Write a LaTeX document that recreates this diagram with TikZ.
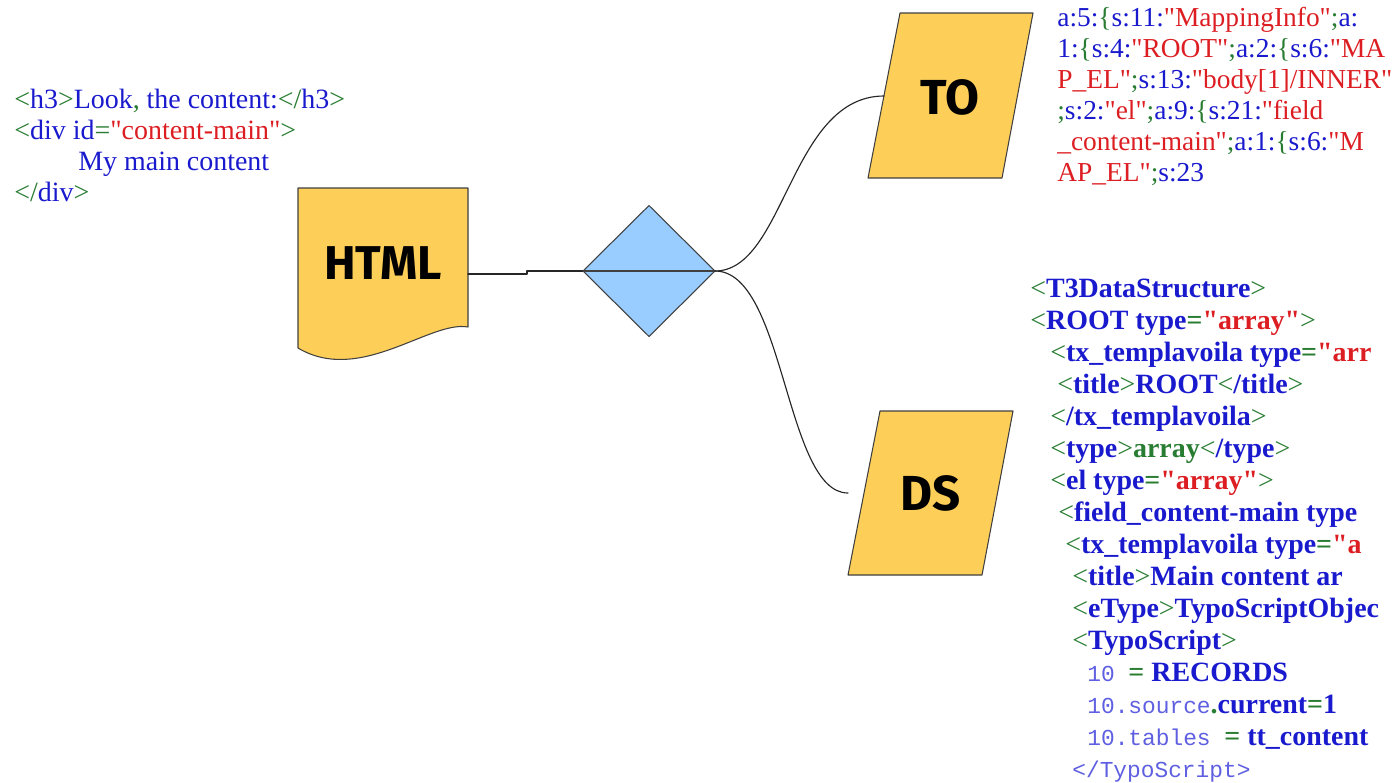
\documentclass[tikz,border=0pt]{standalone}
\usepackage{fontspec}
\setmainfont{Liberation Serif}[Ligatures=TeXOff]
\newfontfamily\codemono{Liberation Mono}
\newfontfamily\boxfont{Fira Sans}
\definecolor{docyellow}{RGB}{253,206,88}
\definecolor{diablue}{RGB}{153,204,255}
\definecolor{tagblue}{RGB}{25,25,205}
\definecolor{taggreen}{RGB}{40,125,50}
\definecolor{valred}{RGB}{220,30,35}
\definecolor{monoblue}{RGB}{95,95,225}
\newcommand{\blu}[1]{\textcolor{tagblue}{#1}}
\newcommand{\grn}[1]{\textcolor{taggreen}{#1}}
\newcommand{\rdd}[1]{\textcolor{valred}{#1}}
\newcommand{\mon}[1]{\textcolor{monoblue}{\codemono\mdseries\fontsize{13pt}{18pt}\selectfont #1}}
\newcommand{\lt}{\grn{\mdseries<}}
\newcommand{\gt}{\grn{\mdseries>}}
\usetikzlibrary{shapes.geometric}
\begin{document}
\begin{tikzpicture}[x=0.02cm,y=-0.02cm,line join=round,line cap=round,
		outline/.style={draw=black!75,line width=0.6pt},
		boxlabel/.style={font=\boxfont\bfseries\fontsize{28pt}{30pt}\selectfont},
		decision/.style={outline,fill=diablue,diamond,minimum width=2.64cm,minimum height=2.62cm,inner sep=0pt,outer sep=0pt},
		code/.style={anchor=north west,inner sep=0pt,align=left,font=\fontsize{15.9pt}{17.6pt}\selectfont},
		link/.style={line width=0.65pt,black!85}]
	\useasboundingbox (0,0) rectangle (1398,782);
	\filldraw[outline,fill=docyellow] (298,188) -- (468,188) -- (468,327) .. controls (430,320) and (360,385) .. (298,348) -- cycle;
	\node[boxlabel,font=\boxfont\bfseries\fontsize{27pt}{30pt}\selectfont] (htmllbl) at (383,263) {HTML};
	\coordinate (htmlout) at (468,274);
	\filldraw[outline,fill=docyellow] (900,13) -- (1033,13) -- (1002,178) -- (868,178) -- cycle;
	\node[boxlabel] (tolbl) at (950,97) {TO};
	\coordinate (toin) at (884,96);
	\filldraw[outline,fill=docyellow] (880,411) -- (1013,411) -- (982,575) -- (848,575) -- cycle;
	\node[boxlabel] (dslbl) at (931,493) {DS};
	\coordinate (dsin) at (848,493);
	\node[decision] (dia) at (649,271) {};
	\draw[link] (htmlout) -- ++(59,0) |- (dia.west);
	\draw[outline] (dia.west) -- (dia.east);
	\draw[link] (dia.east) .. controls (785,271) and (790,96) .. (toin);
	\draw[link] (dia.east) .. controls (785,271) and (785,493) .. (dsin);
	\node[code] (htmlsrc) at (14,89) {\grn{<}\blu{h3}\grn{>}\blu{Look}\grn{,} \blu{the content:}\grn{</}\blu{h3}\grn{>}\\
		\grn{<}\blu{div id}\grn{=}\rdd{"content-main"}\grn{>}\\
		\hspace*{1.28cm}\blu{My main content}\\
		\grn{</}\blu{div}\grn{>}};
	\node[code,font=\fontsize{15.6pt}{17.6pt}\selectfont] (tosrc) at (1057,7) {\blu{a:5:}\grn{\{}\blu{s:11:}\rdd{"MappingInfo"}\grn{;}\blu{a:}\\
		\blu{1:}\grn{\{}\blu{s:4:}\rdd{"ROOT"}\grn{;}\blu{a:2:}\grn{\{}\blu{s:6:}\rdd{"MA}\\
		\rdd{P\_EL"}\grn{;}\blu{s:13:}\rdd{"body[1]/INNER"}\\
		\grn{;}\blu{s:2:}\rdd{"el"}\grn{;}\blu{a:9:}\grn{\{}\blu{s:21:}\rdd{"field}\\
		\rdd{\_content-main"}\grn{;}\blu{a:1:}\grn{\{}\blu{s:6:}\rdd{"M}\\
		\rdd{AP\_EL"}\grn{;}\blu{s:23}};
	\node[code,font=\bfseries\fontsize{15.9pt}{18.2pt}\selectfont] (dssrc) at (1030,279) {\lt\blu{T3DataStructure}\gt\\
		\lt\blu{ROOT type}\grn{=}\rdd{"array"}\gt\\
		\hspace*{0.4cm}\lt\blu{tx\_templavoila type}\grn{=}\rdd{"arr}\\
		\hspace*{0.54cm}\lt\blu{title}\gt\blu{ROOT}\lt\blu{/title}\gt\\
		\hspace*{0.4cm}\lt\blu{/tx\_templavoila}\gt\\
		\hspace*{0.4cm}\lt\blu{type}\gt\grn{array}\lt\blu{/type}\gt\\
		\hspace*{0.4cm}\lt\blu{el type}\grn{=}\rdd{"array"}\gt\\
		\hspace*{0.56cm}\lt\blu{field\_content-main type}\\
		\hspace*{0.7cm}\lt\blu{tx\_templavoila type}\grn{=}\rdd{"a}\\
		\hspace*{0.84cm}\lt\blu{title}\gt\blu{Main content ar}\\
		\hspace*{0.84cm}\lt\blu{eType}\gt\blu{TypoScriptObjec}\\
		\hspace*{0.84cm}\lt\blu{TypoScript}\gt\\
		\hspace*{1.14cm}\mon{10 }\grn{=} \blu{RECORDS}\\
		\hspace*{1.14cm}\mon{10.source}\grn{.}\blu{current}\grn{=}\blu{1}\\
		\hspace*{1.14cm}\mon{10.tables }\grn{=} \blu{tt\_content}\\
		\hspace*{0.84cm}\mon{</TypoScript>}};
\end{tikzpicture}
\end{document}
